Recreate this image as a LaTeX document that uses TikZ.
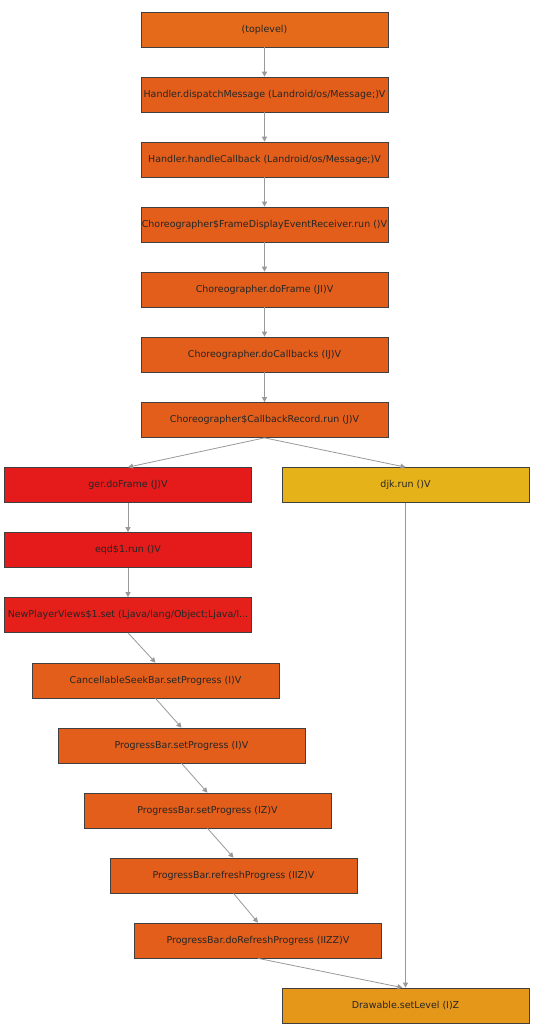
\documentclass[tikz,border=0pt]{standalone}
\usepackage{fontspec}
\setmainfont{DejaVu Sans}
\usetikzlibrary{arrows.meta,shadows}
\definecolor{cTop}{HTML}{E56B1A}
\definecolor{cOr}{HTML}{E35E1A}
\definecolor{cRed}{HTML}{E51A1A}
\definecolor{cRedB}{HTML}{E5201A}
\definecolor{cYel}{HTML}{E5B21A}
\definecolor{cDraw}{HTML}{E5971A}
\definecolor{cEdge}{HTML}{999999}
\tikzset{
  box/.style={rectangle, draw=black!75, line width=0.7pt, minimum width=247pt, minimum height=35pt,
    inner sep=0pt, font=\fontsize{9.5}{11}\selectfont, text=black!85,
    drop shadow={shadow xshift=0.9pt, shadow yshift=-0.9pt, fill=black, opacity=1}},
  edge/.style={draw=cEdge, line width=0.8pt, -{Triangle[width=5pt,length=5pt]}}
}
\begin{document}
\begin{tikzpicture}[x=1pt,y=-1pt]
\useasboundingbox (0,0) rectangle (536,1024);
\fill[white] (0,0) rectangle (536,1024);
\node[box, fill=cTop] (n1) at (264.5,29.5) {(toplevel)};
\node[box, fill=cOr] (n2) at (264.5,94.5) {Handler.dispatchMessage (Landroid/os/Message;)V};
\node[box, fill=cOr] (n3) at (264.5,159.5) {Handler.handleCallback (Landroid/os/Message;)V};
\node[box, fill=cOr] (n4) at (264.5,224.5) {Choreographer\$FrameDisplayEventReceiver.run ()V};
\node[box, fill=cOr] (n5) at (264.5,289.5) {Choreographer.doFrame (JI)V};
\node[box, fill=cOr] (n6) at (264.5,354.5) {Choreographer.doCallbacks (IJ)V};
\node[box, fill=cOr] (n7) at (264.5,420) {Choreographer\$CallbackRecord.run (J)V};
\node[box, fill=cRed] (ger) at (128,485) {ger.doFrame (J)V};
\node[box, fill=cYel] (djk) at (405.5,485) {djk.run ()V};
\node[box, fill=cRed] (eqd) at (128,550) {eqd\$1.run ()V};
\node[box, fill=cRedB] (npv) at (128,615) {NewPlayerViews\$1.set (Ljava/lang/Object;Ljava/l...};
\node[box, fill=cOr] (csb) at (155.5,680.5) {CancellableSeekBar.setProgress (I)V};
\node[box, fill=cOr] (pb1) at (181.5,745.5) {ProgressBar.setProgress (I)V};
\node[box, fill=cOr] (pb2) at (207.5,810.5) {ProgressBar.setProgress (IZ)V};
\node[box, fill=cOr] (rp) at (233.5,875.5) {ProgressBar.refreshProgress (IIZ)V};
\node[box, fill=cOr] (drp) at (258,940.5) {ProgressBar.doRefreshProgress (IIZZ)V};
\node[box, fill=cDraw] (dsl) at (405.5,1005.5) {Drawable.setLevel (I)Z};
\draw[edge] (n1.south) -- (n2.north);
\draw[edge] (n2.south) -- (n3.north);
\draw[edge] (n3.south) -- (n4.north);
\draw[edge] (n4.south) -- (n5.north);
\draw[edge] (n5.south) -- (n6.north);
\draw[edge] (n6.south) -- (n7.north);
\draw[edge] (n7.south) -- (ger.north);
\draw[edge] (n7.south) -- (djk.north);
\draw[edge] (ger.south) -- (eqd.north);
\draw[edge] (eqd.south) -- (npv.north);
\draw[edge] (npv.south) -- (csb.north);
\draw[edge] (csb.south) -- (pb1.north);
\draw[edge] (pb1.south) -- (pb2.north);
\draw[edge] (pb2.south) -- (rp.north);
\draw[edge] (rp.south) -- (drp.north);
\draw[edge] (drp.south) -- ([xshift=-3pt]dsl.north);
\draw[edge] (djk.south) -- (dsl.north);
\end{tikzpicture}
\end{document}
